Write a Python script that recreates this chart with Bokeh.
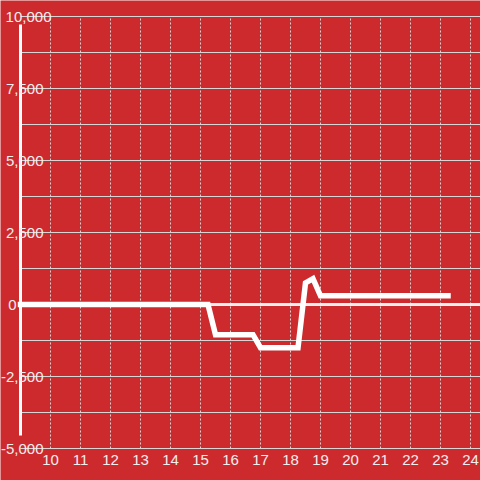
from bokeh.plotting import figure
from bokeh.models import Range1d, LinearAxis, FixedTicker, SingleIntervalTicker, Grid, NumeralTickFormatter
from bokeh.embed import file_html
from bokeh.resources import INLINE

# data
hours = [9, 15.25, 15.5, 16.75, 17, 18.25, 18.5, 18.75, 19, 23.25]
values = [0, 0, -1050, -1050, -1500, -1500, 750, 900, 300, 300]

x_ticks = [10, 11, 12, 13, 14, 15, 16, 17, 18, 19, 20, 21, 22, 23, 24]
y_ticks_main = [-5000, -2500, 2500, 5000, 7500]
y_ticks_top = [10000]
y_ticks_zero = [0]
y_step = 2500

x_start, x_end = 9, 24.3333
y_start, y_end = -5000, 10000

# layout (pixels)
W, H = 480, 480
PAD_L, PAD_T, PAD_B = 20, 16, 32
sx = (W - PAD_L) / (x_end - x_start)          # px per hour
sy = (H - PAD_T - PAD_B) / (y_end - y_start)  # px per unit

BG = "#cd2a2e"
TXT = "#f2eeee"
GRID = "#d6d6d6"
FONT = "Liberation Sans"

p = figure(width=W, height=H, output_backend="svg", toolbar_location=None,
           x_range=Range1d(x_start - PAD_L / sx, x_end),
           y_range=Range1d(y_start - PAD_B / sy, y_end + PAD_T / sy),
           x_axis_location=None, y_axis_location=None,
           min_border_left=0, min_border_right=0, min_border_top=0, min_border_bottom=0,
           background_fill_color=BG, border_fill_color=BG, outline_line_color=None)

p.grid.visible = False

# grids
vgrid = Grid(dimension=0, ticker=FixedTicker(ticks=x_ticks), cross_bounds=(y_start, y_end),
             grid_line_color=GRID, grid_line_width=1, grid_line_dash="2 2")
minor_grid = Grid(dimension=1, ticker=SingleIntervalTicker(interval=y_step, num_minor_ticks=2),
                  cross_bounds=(x_start, x_end), grid_line_color=None,
                  minor_grid_line_color=GRID, minor_grid_line_width=1)
major_grid = Grid(dimension=1, ticker=FixedTicker(ticks=y_ticks_main),
                  cross_bounds=(x_start + 25 / sx, x_end), grid_line_color=GRID, grid_line_width=1)
top_grid = Grid(dimension=1, ticker=FixedTicker(ticks=y_ticks_top),
                cross_bounds=(x_start + 33 / sx, x_end), grid_line_color=GRID, grid_line_width=1)
zero_grid = Grid(dimension=1, ticker=FixedTicker(ticks=y_ticks_zero),
                 cross_bounds=(x_start, x_end), grid_line_color="#eeeeee", grid_line_width=3)
for g in (vgrid, minor_grid, major_grid, top_grid, zero_grid):
    p.add_layout(g)

p.line(hours, values, line_color="white", line_width=5.5, line_cap="square", line_join="miter")

# white y rule
rule = LinearAxis(ticker=FixedTicker(ticks=[]), fixed_location=x_start,
                  bounds=(y_end - 8 / sy - (y_end - y_end), y_start + 13 / sy),
                  axis_line_color="white", axis_line_width=3,
                  major_tick_line_color=None, minor_tick_line_color=None,
                  major_tick_out=0, major_tick_in=0, minor_tick_out=0, minor_tick_in=0)
rule.bounds = (y_start + 13 / sy, y_end - 8 / sy)
p.add_layout(rule, "left")


def label_axis(ticks, standoff):
    ax = LinearAxis(ticker=FixedTicker(ticks=ticks), fixed_location=x_start,
                    formatter=NumeralTickFormatter(format="0,0"),
                    axis_line_color=None, major_tick_line_color=None, minor_tick_line_color=None,
                    major_tick_out=0, major_tick_in=0, minor_tick_out=0, minor_tick_in=0,
                    major_label_standoff=standoff,
                    major_label_text_color=TXT, major_label_text_font=FONT,
                    major_label_text_font_size="15px")
    p.add_layout(ax, "left")
    return ax


label_axis(y_ticks_main, -23)
label_axis(y_ticks_top, -31)
label_axis(y_ticks_zero, 4)

xax = LinearAxis(ticker=FixedTicker(ticks=x_ticks), fixed_location=y_start,
                 bounds=(x_start + 25 / sx, x_end),
                 axis_line_color=GRID, axis_line_width=1,
                 major_tick_line_color=None, minor_tick_line_color=None,
                 major_tick_out=0, major_tick_in=0, minor_tick_out=0, minor_tick_in=0,
                 major_label_standoff=6,
                 major_label_text_color=TXT, major_label_text_font=FONT,
                 major_label_text_font_size="15px")
p.add_layout(xax, "below")

open("out.html", "w").write(file_html(p, INLINE))
